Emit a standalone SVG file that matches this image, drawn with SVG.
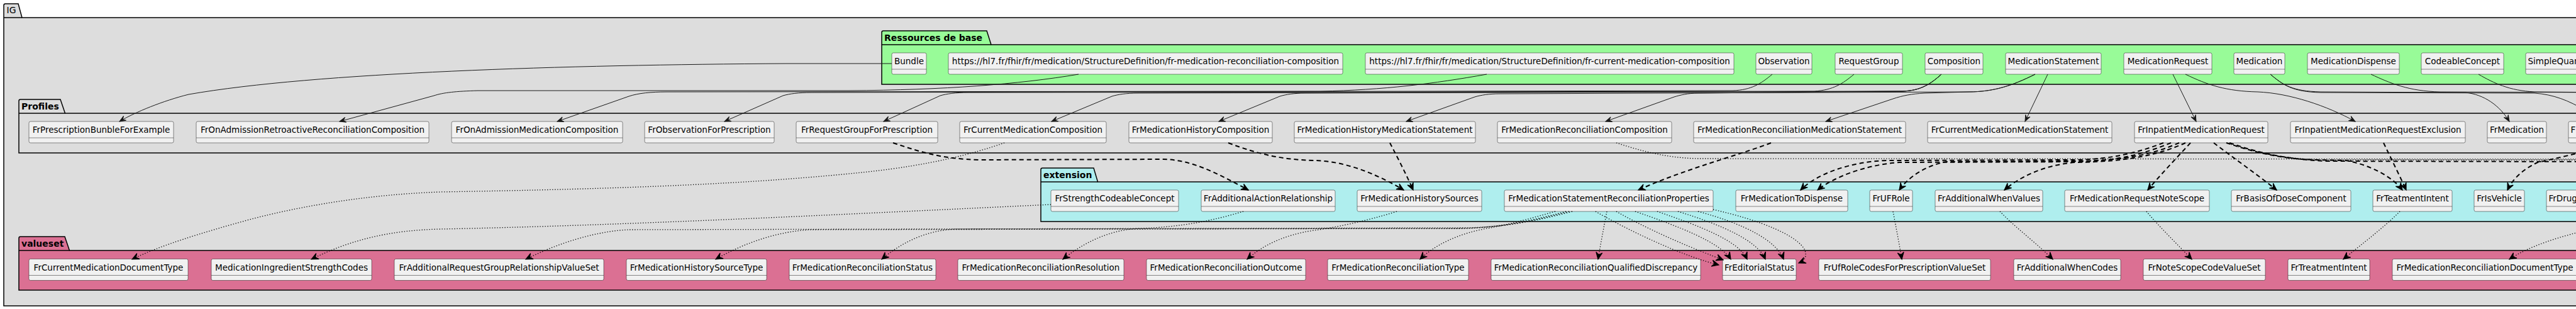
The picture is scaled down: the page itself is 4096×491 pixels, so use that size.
<svg xmlns="http://www.w3.org/2000/svg" width="4096" height="491" viewBox="0 0 4096 491">
<defs>
<style>
.pkg{stroke:#000;stroke-width:1.5}
.sep{stroke:#000;stroke-width:1.5;fill:none}
.ptitle{font-family:"DejaVu Sans",sans-serif;font-size:14px;font-weight:bold;fill:#000}
.node rect{fill:#F1F1F1;stroke:#181818;stroke-width:0.5}
.node line{stroke:#181818;stroke-width:0.5}
.node text{font-family:"DejaVu Sans",sans-serif;font-size:13.5px;fill:#000;text-anchor:middle}
.node text.l{text-anchor:start}
.s{fill:none;stroke:#181818;stroke-width:1;marker-end:url(#hs)}
.d{fill:none;stroke:#000;stroke-width:2;stroke-dasharray:7 5;marker-end:url(#hd)}
.o{fill:none;stroke:#000;stroke-width:1.3;stroke-dasharray:1.3 2.7;marker-end:url(#hd)}
</style>
<marker id="hs" viewBox="-12 -6 14 12" refX="0" refY="0" markerWidth="14" markerHeight="12" markerUnits="userSpaceOnUse" orient="auto"><path d="M0,0 L-10,-4 L-6,0 L-10,4 Z" fill="#181818" stroke="#181818" stroke-width="1" stroke-dasharray="none"/></marker>
<marker id="hd" viewBox="-13 -7 15 14" refX="0" refY="0" markerWidth="15" markerHeight="14" markerUnits="userSpaceOnUse" orient="auto"><path d="M0,0 L-11,-5 L-7,0 L-11,5 Z" fill="#000" stroke="#000" stroke-width="1.2" stroke-dasharray="none"/></marker>
</defs>
<rect x="0" y="0" width="4096" height="491" fill="#FFFFFF"/>

<g id="pkg-IG">
<path class="pkg" fill="#DDDDDD" d="M6,486 L6,8.5 Q6,6 8.5,6 L29,6 L35,28 L4200,28 L4200,486 Z"/>
<path class="sep" d="M6,28 L35,28"/>
<text x="10.5" y="21" font-family="DejaVu Sans, sans-serif" font-size="14" fill="#000">IG</text>
</g>
<g id="pkg-ressources">
<path class="pkg" fill="#98FB98" d="M1402,134 L1402,51.5 Q1402,49 1404.5,49 L1569,49 L1576,71 L4200,71 L4200,134 Z"/>
<path class="sep" d="M1402,71 L1576,71"/>
<text class="ptitle" x="1406" y="64.5">Ressources de base</text>
</g>
<g id="pkg-profiles">
<path class="pkg" fill="#DDDDDD" d="M30,243 L30,160.5 Q30,158 32.5,158 L96,158 L103.5,180 L4200,180 L4200,243 Z"/>
<path class="sep" d="M30,180 L103.5,180"/>
<text class="ptitle" x="34" y="173.5">Profiles</text>
</g>
<g id="pkg-extension">
<path class="pkg" fill="#AFEEEE" d="M1655,352 L1655,269.5 Q1655,267 1657.5,267 L1739,267 L1745.5,289 L4200,289 L4200,352 Z"/>
<path class="sep" d="M1655,289 L1745.5,289"/>
<text class="ptitle" x="1659" y="282.5">extension</text>
</g>
<g id="pkg-valueset">
<path class="pkg" fill="#DB7093" d="M30,461 L30,378.5 Q30,376 32.5,376 L103,376 L110.5,398 L4200,398 L4200,461 Z"/>
<path class="sep" d="M30,398 L110.5,398"/>
<text class="ptitle" x="34" y="391.5">valueset</text>
</g>

<!-- Ressources de base -->
<g id="Bundle" class="node"><rect x="1418" y="84" width="55" height="34" rx="2.5"/><line x1="1418" y1="110" x2="1473" y2="110"/><text x="1445.5" y="102">Bundle</text></g>
<g id="url-fr-medication-reconciliation-composition" class="node"><rect x="1508" y="84" width="627" height="34" rx="2.5"/><line x1="1508" y1="110" x2="2135" y2="110"/><text x="1821.5" y="102">https://hl7.fr/fhir/fr/medication/StructureDefinition/fr-medication-reconciliation-composition</text></g>
<g id="url-fr-current-medication-composition" class="node"><rect x="2171" y="84" width="586" height="34" rx="2.5"/><line x1="2171" y1="110" x2="2757" y2="110"/><text x="2464" y="102">https://hl7.fr/fhir/fr/medication/StructureDefinition/fr-current-medication-composition</text></g>
<g id="Observation" class="node"><rect x="2792" y="84" width="89" height="34" rx="2.5"/><line x1="2792" y1="110" x2="2881" y2="110"/><text x="2836.5" y="102">Observation</text></g>
<g id="RequestGroup" class="node"><rect x="2918" y="84" width="107" height="34" rx="2.5"/><line x1="2918" y1="110" x2="3025" y2="110"/><text x="2971.5" y="102">RequestGroup</text></g>
<g id="Composition" class="node"><rect x="3061" y="84" width="92" height="34" rx="2.5"/><line x1="3061" y1="110" x2="3153" y2="110"/><text x="3107" y="102">Composition</text></g>
<g id="MedicationStatement" class="node"><rect x="3189" y="84" width="152" height="34" rx="2.5"/><line x1="3189" y1="110" x2="3341" y2="110"/><text x="3265" y="102">MedicationStatement</text></g>
<g id="MedicationRequest" class="node"><rect x="3377" y="84" width="140" height="34" rx="2.5"/><line x1="3377" y1="110" x2="3517" y2="110"/><text x="3447" y="102">MedicationRequest</text></g>
<g id="Medication" class="node"><rect x="3552" y="84" width="81" height="34" rx="2.5"/><line x1="3552" y1="110" x2="3633" y2="110"/><text x="3592.5" y="102">Medication</text></g>
<g id="MedicationDispense" class="node"><rect x="3669" y="84" width="146" height="34" rx="2.5"/><line x1="3669" y1="110" x2="3815" y2="110"/><text x="3742" y="102">MedicationDispense</text></g>
<g id="CodeableConcept" class="node"><rect x="3850" y="84" width="131" height="34" rx="2.5"/><line x1="3850" y1="110" x2="3981" y2="110"/><text x="3915.5" y="102">CodeableConcept</text></g>
<g id="SimpleQuantity" class="node"><rect x="4016" y="84" width="120" height="34" rx="2.5"/><line x1="4016" y1="110" x2="4136" y2="110"/><text class="l" x="4019.5" y="102">SimpleQuantity</text></g>

<!-- Profiles -->
<g id="FrPrescriptionBunbleForExample" class="node"><rect x="46" y="193" width="230" height="34" rx="2.5"/><line x1="46" y1="219" x2="276" y2="219"/><text x="161" y="211">FrPrescriptionBunbleForExample</text></g>
<g id="FrOnAdmissionRetroactiveReconciliationComposition" class="node"><rect x="312" y="193" width="370" height="34" rx="2.5"/><line x1="312" y1="219" x2="682" y2="219"/><text x="497" y="211">FrOnAdmissionRetroactiveReconciliationComposition</text></g>
<g id="FrOnAdmissionMedicationComposition" class="node"><rect x="718" y="193" width="272" height="34" rx="2.5"/><line x1="718" y1="219" x2="990" y2="219"/><text x="854" y="211">FrOnAdmissionMedicationComposition</text></g>
<g id="FrObservationForPrescription" class="node"><rect x="1025" y="193" width="206" height="34" rx="2.5"/><line x1="1025" y1="219" x2="1231" y2="219"/><text x="1128" y="211">FrObservationForPrescription</text></g>
<g id="FrRequestGroupForPrescription" class="node"><rect x="1266" y="193" width="225" height="34" rx="2.5"/><line x1="1266" y1="219" x2="1491" y2="219"/><text x="1378.5" y="211">FrRequestGroupForPrescription</text></g>
<g id="FrCurrentMedicationComposition" class="node"><rect x="1526" y="193" width="233" height="34" rx="2.5"/><line x1="1526" y1="219" x2="1759" y2="219"/><text x="1642.5" y="211">FrCurrentMedicationComposition</text></g>
<g id="FrMedicationHistoryComposition" class="node"><rect x="1795" y="193" width="228" height="34" rx="2.5"/><line x1="1795" y1="219" x2="2023" y2="219"/><text x="1909" y="211">FrMedicationHistoryComposition</text></g>
<g id="FrMedicationHistoryMedicationStatement" class="node"><rect x="2058" y="193" width="288" height="34" rx="2.5"/><line x1="2058" y1="219" x2="2346" y2="219"/><text x="2202" y="211">FrMedicationHistoryMedicationStatement</text></g>
<g id="FrMedicationReconciliationComposition" class="node"><rect x="2381" y="193" width="277" height="34" rx="2.5"/><line x1="2381" y1="219" x2="2658" y2="219"/><text x="2519.5" y="211">FrMedicationReconciliationComposition</text></g>
<g id="FrMedicationReconciliationMedicationStatement" class="node"><rect x="2693" y="193" width="337" height="34" rx="2.5"/><line x1="2693" y1="219" x2="3030" y2="219"/><text x="2861.5" y="211">FrMedicationReconciliationMedicationStatement</text></g>
<g id="FrCurrentMedicationMedicationStatement" class="node"><rect x="3065" y="193" width="293" height="34" rx="2.5"/><line x1="3065" y1="219" x2="3358" y2="219"/><text x="3211.5" y="211">FrCurrentMedicationMedicationStatement</text></g>
<g id="FrInpatientMedicationRequest" class="node"><rect x="3394" y="193" width="212" height="34" rx="2.5"/><line x1="3394" y1="219" x2="3606" y2="219"/><text x="3500" y="211">FrInpatientMedicationRequest</text></g>
<g id="FrInpatientMedicationRequestExclusion" class="node"><rect x="3642" y="193" width="278" height="34" rx="2.5"/><line x1="3642" y1="219" x2="3920" y2="219"/><text x="3781" y="211">FrInpatientMedicationRequestExclusion</text></g>
<g id="FrMedication" class="node"><rect x="3955" y="193" width="94" height="34" rx="2.5"/><line x1="3955" y1="219" x2="4049" y2="219"/><text x="4002" y="211">FrMedication</text></g>
<g id="profile-cut" class="node"><rect x="4084" y="193" width="140" height="34" rx="2.5"/><line x1="4084" y1="219" x2="4224" y2="219"/><text class="l" x="4087.5" y="211">F</text></g>

<!-- extension -->
<g id="FrStrengthCodeableConcept" class="node"><rect x="1671" y="302" width="203" height="34" rx="2.5"/><line x1="1671" y1="328" x2="1874" y2="328"/><text x="1772.5" y="320">FrStrengthCodeableConcept</text></g>
<g id="FrAdditionalActionRelationship" class="node"><rect x="1910" y="302" width="213" height="34" rx="2.5"/><line x1="1910" y1="328" x2="2123" y2="328"/><text x="2016.5" y="320">FrAdditionalActionRelationship</text></g>
<g id="FrMedicationHistorySources" class="node"><rect x="2158" y="302" width="198" height="34" rx="2.5"/><line x1="2158" y1="328" x2="2356" y2="328"/><text x="2257" y="320">FrMedicationHistorySources</text></g>
<g id="FrMedicationStatementReconciliationProperties" class="node"><rect x="2392" y="302" width="332" height="34" rx="2.5"/><line x1="2392" y1="328" x2="2724" y2="328"/><text x="2558" y="320">FrMedicationStatementReconciliationProperties</text></g>
<g id="FrMedicationToDispense" class="node"><rect x="2760" y="302" width="178" height="34" rx="2.5"/><line x1="2760" y1="328" x2="2938" y2="328"/><text x="2849" y="320">FrMedicationToDispense</text></g>
<g id="FrUFRole" class="node"><rect x="2973" y="302" width="68" height="34" rx="2.5"/><line x1="2973" y1="328" x2="3041" y2="328"/><text x="3007" y="320">FrUFRole</text></g>
<g id="FrAdditionalWhenValues" class="node"><rect x="3077" y="302" width="171" height="34" rx="2.5"/><line x1="3077" y1="328" x2="3248" y2="328"/><text x="3162.5" y="320">FrAdditionalWhenValues</text></g>
<g id="FrMedicationRequestNoteScope" class="node"><rect x="3283" y="302" width="230" height="34" rx="2.5"/><line x1="3283" y1="328" x2="3513" y2="328"/><text x="3398" y="320">FrMedicationRequestNoteScope</text></g>
<g id="FrBasisOfDoseComponent" class="node"><rect x="3548" y="302" width="190" height="34" rx="2.5"/><line x1="3548" y1="328" x2="3738" y2="328"/><text x="3643" y="320">FrBasisOfDoseComponent</text></g>
<g id="FrTeatmentIntent" class="node"><rect x="3773" y="302" width="126" height="34" rx="2.5"/><line x1="3773" y1="328" x2="3899" y2="328"/><text x="3836" y="320">FrTeatmentIntent</text></g>
<g id="FrIsVehicle" class="node"><rect x="3934" y="302" width="80" height="34" rx="2.5"/><line x1="3934" y1="328" x2="4014" y2="328"/><text x="3974" y="320">FrIsVehicle</text></g>
<g id="FrDrug" class="node"><rect x="4049" y="302" width="200" height="34" rx="2.5"/><line x1="4049" y1="328" x2="4249" y2="328"/><text class="l" x="4052.5" y="320">FrDrug</text></g>

<!-- valueset -->
<g id="FrCurrentMedicationDocumentType" class="node"><rect x="46" y="411.5" width="253" height="34" rx="2.5"/><line x1="46" y1="437.5" x2="299" y2="437.5"/><text x="172.5" y="429.5">FrCurrentMedicationDocumentType</text></g>
<g id="MedicationIngredientStrengthCodes" class="node"><rect x="336" y="411.5" width="255" height="34" rx="2.5"/><line x1="336" y1="437.5" x2="591" y2="437.5"/><text x="463.5" y="429.5">MedicationIngredientStrengthCodes</text></g>
<g id="FrAdditionalRequestGroupRelationshipValueSet" class="node"><rect x="627" y="411.5" width="333" height="34" rx="2.5"/><line x1="627" y1="437.5" x2="960" y2="437.5"/><text x="793.5" y="429.5">FrAdditionalRequestGroupRelationshipValueSet</text></g>
<g id="FrMedicationHistorySourceType" class="node"><rect x="996" y="411.5" width="223" height="34" rx="2.5"/><line x1="996" y1="437.5" x2="1219" y2="437.5"/><text x="1107.5" y="429.5">FrMedicationHistorySourceType</text></g>
<g id="FrMedicationReconciliationStatus" class="node"><rect x="1255" y="411.5" width="233" height="34" rx="2.5"/><line x1="1255" y1="437.5" x2="1488" y2="437.5"/><text x="1371.5" y="429.5">FrMedicationReconciliationStatus</text></g>
<g id="FrMedicationReconciliationResolution" class="node"><rect x="1523" y="411.5" width="264" height="34" rx="2.5"/><line x1="1523" y1="437.5" x2="1787" y2="437.5"/><text x="1655" y="429.5">FrMedicationReconciliationResolution</text></g>
<g id="FrMedicationReconciliationOutcome" class="node"><rect x="1823" y="411.5" width="253" height="34" rx="2.5"/><line x1="1823" y1="437.5" x2="2076" y2="437.5"/><text x="1949.5" y="429.5">FrMedicationReconciliationOutcome</text></g>
<g id="FrMedicationReconciliationType" class="node"><rect x="2111" y="411.5" width="224" height="34" rx="2.5"/><line x1="2111" y1="437.5" x2="2335" y2="437.5"/><text x="2223" y="429.5">FrMedicationReconciliationType</text></g>
<g id="FrMedicationReconciliationQualifiedDiscrepancy" class="node"><rect x="2371" y="411.5" width="333" height="34" rx="2.5"/><line x1="2371" y1="437.5" x2="2704" y2="437.5"/><text x="2537.5" y="429.5">FrMedicationReconciliationQualifiedDiscrepancy</text></g>
<g id="FrEditorialStatus" class="node"><rect x="2739" y="411.5" width="117" height="34" rx="2.5"/><line x1="2739" y1="437.5" x2="2856" y2="437.5"/><text x="2797.5" y="429.5">FrEditorialStatus</text></g>
<g id="FrUfRoleCodesForPrescriptionValueSet" class="node"><rect x="2892" y="411.5" width="273" height="34" rx="2.5"/><line x1="2892" y1="437.5" x2="3165" y2="437.5"/><text x="3028.5" y="429.5">FrUfRoleCodesForPrescriptionValueSet</text></g>
<g id="FrAdditionalWhenCodes" class="node"><rect x="3202" y="411.5" width="170" height="34" rx="2.5"/><line x1="3202" y1="437.5" x2="3372" y2="437.5"/><text x="3287" y="429.5">FrAdditionalWhenCodes</text></g>
<g id="FrNoteScopeCodeValueSet" class="node"><rect x="3408" y="411.5" width="194" height="34" rx="2.5"/><line x1="3408" y1="437.5" x2="3602" y2="437.5"/><text x="3505" y="429.5">FrNoteScopeCodeValueSet</text></g>
<g id="FrTreatmentIntent" class="node"><rect x="3638" y="411.5" width="130" height="34" rx="2.5"/><line x1="3638" y1="437.5" x2="3768" y2="437.5"/><text x="3703" y="429.5">FrTreatmentIntent</text></g>
<g id="FrMedicationReconciliationDocumentType" class="node"><rect x="3804" y="411.5" width="294" height="34" rx="2.5"/><line x1="3804" y1="437.5" x2="4098" y2="437.5"/><text x="3951" y="429.5">FrMedicationReconciliationDocumentType</text></g>

<g id="connectors">
<!-- solid: base resource -> profile -->
<path class="s" d="M1418,101 L1250,101 C900,103 500,115 300,150 C260,160 215,178 190,193"/>
<path class="s" d="M1715,118 C1620,134 1500,143 1350,144 L760,144 C725,145 705,147 690,152 L540,193"/>
<path class="s" d="M2364,118 C2280,133 2200,143 2100,145 L1060,146 C1035,146 1015,148 1000,153 L886,193"/>
<path class="s" d="M2818,118 C2800,133 2785,143 2755,144 L1290,147 C1270,147 1255,149 1245,152 L1152,193"/>
<path class="s" d="M2948,118 C2930,133 2915,143 2885,145 L1540,147 C1520,147 1505,149 1495,152 L1405,193"/>
<path class="s" d="M3087,118 C3070,133 3055,144 3025,145 L1810,148 C1790,148 1778,150 1768,153 L1672,193"/>
<path class="s" d="M3087,118 C3070,133 3055,144 3025,145 L2075,148 C2058,148 2045,150 2035,153 L1938,193"/>
<path class="s" d="M3087,118 C3070,133 3055,144 3025,145 L2700,148 C2684,148 2672,151 2662,154 L2553,193"/>
<path class="s" d="M3236,118 C3200,136 3170,146 3130,146 L2385,149 C2368,149 2355,151 2345,154 L2236,193"/>
<path class="s" d="M3236,118 C3200,136 3170,146 3130,146 L3060,148 C3040,149 3025,152 3010,157 L2903,193"/>
<path class="s" d="M3256,118 L3220,193"/>
<path class="s" d="M3455,118 L3492,193"/>
<path class="s" d="M3475,118 C3510,135 3540,145 3590,146 C3640,148 3700,168 3745,193"/>
<path class="s" d="M3610,118 C3630,135 3645,145 3690,146 L3920,147 C3950,150 3975,168 3990,193"/>
<path class="s" d="M3770,118 C3800,132 3830,145 3880,146 L4160,147"/>
<path class="s" d="M3941,118 C3965,132 3990,144 4030,146 L4160,147"/>
<path class="s" d="M3610,118 C3630,135 3645,146 3690,147 L4030,148 C4060,150 4085,160 4110,175"/>
<!-- dashed: profile -> extension -->
<path class="d" d="M1420,227 C1460,240 1495,253 1560,254 L1850,253 C1895,254 1935,275 1985,302"/>
<path class="d" d="M1953,227 C2000,245 2040,254 2090,255 C2140,256 2190,277 2232,302"/>
<path class="d" d="M2210,227 C2222,250 2235,275 2247,302"/>
<path class="d" d="M2816,227 C2770,245 2680,268 2605,302"/>
<path class="d" d="M3440,227 C3400,242 3360,253 3300,254 L3000,255 C2940,257 2888,277 2863,302"/>
<path class="d" d="M3452,227 C3412,243 3372,256 3300,257 L3020,258 C2965,262 2915,282 2890,302"/>
<path class="d" d="M3465,227 C3425,244 3385,255 3300,256 L3095,257 C3065,262 3035,280 3020,302"/>
<path class="d" d="M3475,227 C3435,245 3385,257 3300,258 C3250,262 3210,282 3187,302"/>
<path class="d" d="M3483,227 C3460,252 3435,278 3415,302"/>
<path class="d" d="M3520,227 C3550,250 3590,278 3620,302"/>
<path class="d" d="M3540,227 C3580,240 3620,252 3680,254 L3730,255 C3770,262 3805,282 3820,302"/>
<path class="d" d="M3790,227 C3802,252 3815,278 3826,302"/>
<path class="d" d="M4130,236 C4080,248 4050,255 4035,258 C4010,270 3995,285 3987,302"/>
<path class="d" d="M3545,227 C3590,242 3630,253 3700,256 L4160,257"/>
<!-- dotted: -> valueset -->
<path class="o" d="M1597,227 C1545,245 1480,262 1380,273 C1200,292 1000,300 700,305 C560,310 450,335 400,348 C320,370 255,390 210,412"/>
<path class="o" d="M1671,325 C1350,340 1000,358 700,364 C620,366 560,380 495,412"/>
<path class="o" d="M2500,336 C2440,352 2390,361 2330,362 L1000,365 C950,367 890,385 836,412"/>
<path class="o" d="M2495,336 C2435,352 2385,362 2325,363 L1290,365 C1240,367 1185,385 1138,412"/>
<path class="o" d="M2490,336 C2430,352 2380,362 2320,363 L1520,364 C1470,366 1430,388 1402,412"/>
<path class="o" d="M1977,336 C1930,350 1880,361 1810,363 C1760,366 1720,388 1690,412"/>
<path class="o" d="M2221,336 C2170,352 2120,362 2090,366 C2040,373 2005,392 1983,412"/>
<path class="o" d="M2473,336 C2430,348 2395,358 2370,362 C2320,370 2280,390 2258,412"/>
<path class="o" d="M2555,336 C2550,362 2545,388 2541,412"/>
<path class="o" d="M2537,336 C2600,372 2680,408 2733,421"/>
<path class="o" d="M2570,336 C2630,370 2700,398 2740,413"/>
<path class="o" d="M2600,336 C2670,360 2735,385 2752,412"/>
<path class="o" d="M2635,336 C2705,360 2765,383 2778,412"/>
<path class="o" d="M2668,336 C2740,358 2795,383 2807,412"/>
<path class="o" d="M2700,336 C2775,356 2825,383 2836,412"/>
<path class="o" d="M2724,333 C2800,350 2860,375 2870,398 C2874,410 2867,415 2860,418"/>
<path class="o" d="M3010,336 C3015,362 3020,388 3024,412"/>
<path class="o" d="M3180,336 C3205,362 3240,388 3264,412"/>
<path class="o" d="M3413,336 C3435,362 3462,388 3485,412"/>
<path class="o" d="M3816,336 C3790,362 3755,388 3726,412"/>
<path class="o" d="M2570,227 C2610,240 2650,251 2700,252 L4160,253"/>
<path class="o" d="M3540,227 C3585,242 3630,253 3700,254 L4160,254"/>
<path class="o" d="M4130,362 C4070,375 4020,392 3990,412"/>
</g>
</svg>
